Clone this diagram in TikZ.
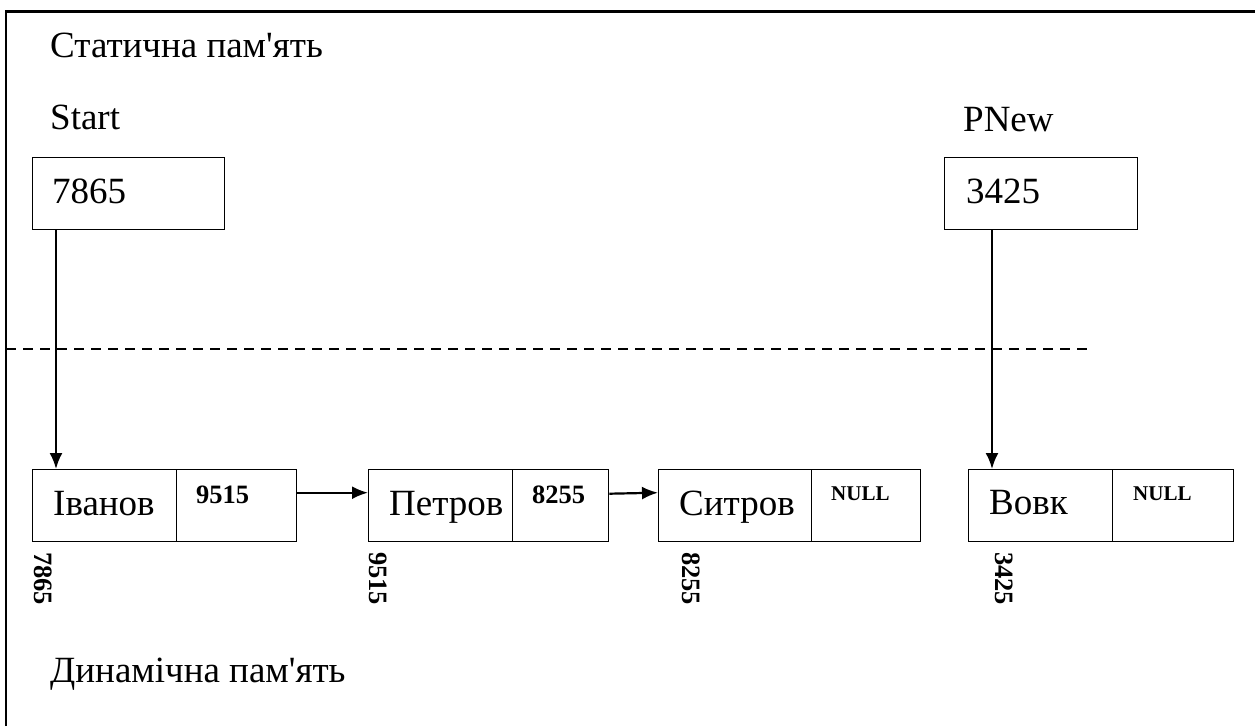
\documentclass[tikz,border=0pt]{standalone}
\usepackage{fontspec}
\setmainfont{Liberation Serif}
\usetikzlibrary{arrows.meta}

\tikzset{
    cell/.style={draw, line width=1.4pt, minimum height=72pt, inner sep=0pt, anchor=north west},
    txt/.style={font=\fontsize{37}{42}\selectfont, inner sep=0pt, anchor=base west},
    addr/.style={font=\fontsize{26.5}{30}\selectfont\bfseries, inner sep=0pt},
    nullval/.style={font=\fontsize{21}{24}\selectfont\bfseries, inner sep=0pt, anchor=base west},
    ptr/.style={line width=2.2pt, -{Latex[length=16pt,width=13pt]}}
}

\begin{document}
\begin{tikzpicture}[x=1pt, y=-1pt]
            \useasboundingbox (0,0) rectangle (1255,726);

            % Frame
            \draw[line width=2.5pt] (6,726) -- (6,11.5) -- (1255,11.5);

            % Static memory
            \node[txt] (static) at (50,57) {Статична пам\textquotesingle ять};
            \node[txt] (startname) at (50,129) {Start};
            \node[cell, minimum width=192pt] (start) at (32,157) {};
            \node[txt] (startval) at (52,203) {7865};
            \node[txt] (pnewname) at (963,131) {PNew};
            \node[cell, minimum width=193pt] (pnew) at (944,157) {};
            \node[txt] (pnewval) at (966,203) {3425};

            % Border between memories
            \coordinate (sepl) at (6,349);
            \coordinate (sepr) at (1088,349);
            \draw[line width=1.2pt, dash pattern=on 10pt off 7pt] (sepl) -- (sepr);

            % Dynamic memory: list elements
            \node[cell, minimum width=144pt] (ivanov) at (32,469) {};
            \node[cell, minimum width=120pt] (ivanovp) at (176,469) {};
            \node[cell, minimum width=144pt] (petrov) at (368,469) {};
            \node[cell, minimum width=96pt] (petrovp) at (512,469) {};
            \node[cell, minimum width=153pt] (sytrov) at (658,469) {};
            \node[cell, minimum width=109pt] (sytrovp) at (811,469) {};
            \node[cell, minimum width=144pt] (vovk) at (968,469) {};
            \node[cell, minimum width=121pt] (vovkp) at (1112,469) {};

            \node[txt] at (53,515) {Іванов};
            \node[addr, anchor=base west] at (196,503) {9515};
            \node[txt] at (389,515) {Петров};
            \node[addr, anchor=base west] at (532,503) {8255};
            \node[txt] at (679,515) {Ситров};
            \node[nullval] at (831,500) {NULL};
            \node[txt] at (989,514) {Вовк};
            \node[nullval] at (1133,500) {NULL};

            % Addresses
            \node[addr, rotate=-90, anchor=west] (a1) at (43,552) {7865};
            \node[addr, rotate=-90, anchor=west] (a2) at (378,552) {9515};
            \node[addr, rotate=-90, anchor=west] (a3) at (691,552) {8255};
            \node[addr, rotate=-90, anchor=west] (a4) at (1004,552) {3425};

            \node[txt] (dynamic) at (50,682) {Динамічна пам\textquotesingle ять};

            % Pointers
            \coordinate (ivanovin) at ([xshift=24pt]ivanov.north west);
            \coordinate (vovkin) at ([xshift=24pt]vovk.north west);
            \draw[ptr] (start.south -| ivanovin) -- (ivanovin);
            \draw[ptr] (pnew.south -| vovkin) -- (vovkin);
            \draw[ptr] ([yshift=13pt]ivanovp.east) -- ([yshift=13pt]petrov.west);
            \draw[ptr] ([yshift=12pt]petrovp.east) -- ([yshift=13pt]sytrov.west);
        \end{tikzpicture}
\end{document}
